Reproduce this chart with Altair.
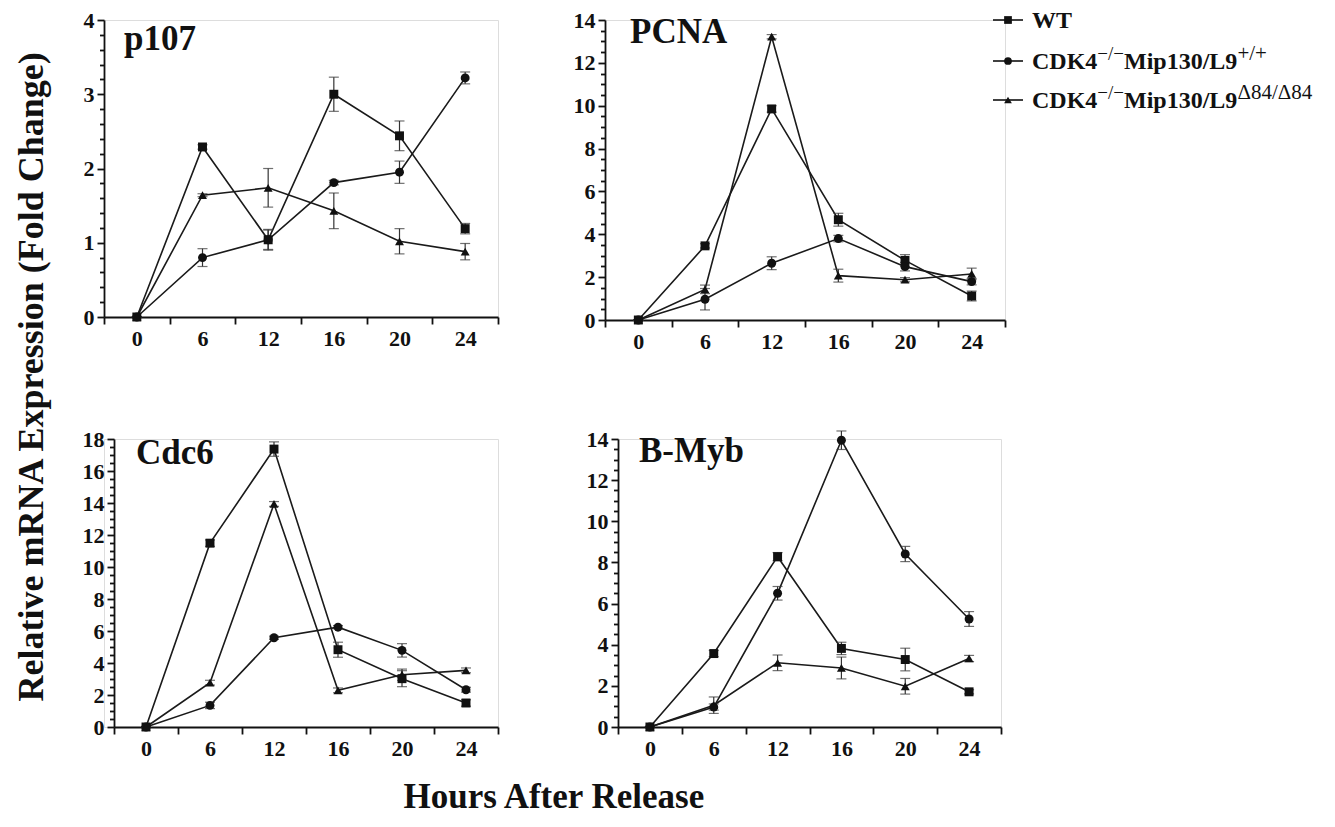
import altair as alt
import pandas as pd

FONT = "Liberation Serif"
INK = "#111111"

hours = ["0", "6", "12", "16", "20", "24"]
series = ["WT", "CDK4-/-Mip130/L9+/+", "CDK4-/-Mip130/L9D84/D84"]
shapes = ["square", "circle", "triangle-up"]

# ---- p107 ----
p107_wt = [0, 2.29, 1.04, 3.00, 2.44, 1.19]
p107_wt_err = [0, 0.03, 0.14, 0.23, 0.20, 0.07]
p107_pp = [0, 0.80, 1.04, 1.81, 1.95, 3.22]
p107_pp_err = [0, 0.12, 0.13, 0.03, 0.15, 0.08]
p107_d84 = [0, 1.64, 1.74, 1.43, 1.02, 0.88]
p107_d84_err = [0, 0.02, 0.26, 0.24, 0.17, 0.11]

# ---- PCNA ----
pcna_wt = [0, 3.46, 9.85, 4.68, 2.78, 1.12]
pcna_wt_err = [0, 0.10, 0.15, 0.30, 0.27, 0.23]
pcna_pp = [0, 0.97, 2.65, 3.80, 2.49, 1.79]
pcna_pp_err = [0, 0.50, 0.30, 0.15, 0.20, 0.15]
pcna_d84 = [0, 1.43, 13.22, 2.07, 1.88, 2.15]
pcna_d84_err = [0, 0.20, 0.10, 0.30, 0.10, 0.27]

# ---- Cdc6 ----
cdc6_wt = [0, 11.49, 17.37, 4.83, 3.02, 1.50]
cdc6_wt_err = [0, 0.20, 0.45, 0.47, 0.50, 0.20]
cdc6_pp = [0, 1.35, 5.58, 6.24, 4.79, 2.33]
cdc6_pp_err = [0, 0.20, 0.10, 0.10, 0.42, 0.15]
cdc6_d84 = [0, 2.77, 13.94, 2.29, 3.27, 3.54]
cdc6_d84_err = [0, 0.15, 0.15, 0.15, 0.35, 0.15]

# ---- B-Myb ----
bmyb_wt = [0, 3.57, 8.28, 3.82, 3.28, 1.71]
bmyb_wt_err = [0, 0.15, 0.20, 0.30, 0.55, 0.10]
bmyb_pp = [0, 0.97, 6.50, 13.94, 8.41, 5.25]
bmyb_pp_err = [0, 0.15, 0.33, 0.45, 0.37, 0.36]
bmyb_d84 = [0, 1.06, 3.12, 2.87, 1.98, 3.33]
bmyb_d84_err = [0, 0.40, 0.38, 0.53, 0.38, 0.15]

# legend text pieces
leg_main1 = ["WT", "CDK4", "CDK4"]
leg_sup1 = ["", "\u2212/\u2212", "\u2212/\u2212"]
leg_main2 = ["", "Mip130/L9", "Mip130/L9"]
leg_sup2 = ["", "+/+", "\u039484/\u039484"]


def make_df(wt, wte, pp, ppe, d, de):
    rows = []
    for s, vals, errs in zip(series, [wt, pp, d], [wte, ppe, de]):
        for h, v, e in zip(hours, vals, errs):
            rows.append({"series": s, "hour": h, "value": v, "lo": v - e, "hi": v + e})
    return pd.DataFrame(rows)


def panel(name, df, ymax, major, minor, w, h, tx, ty, inset=0, legend=False):
    nmaj = int(round(ymax / major))
    majors = [i * major for i in range(nmaj + 1)]
    nmin = int(round(ymax / minor))
    minors = [round(i * minor, 3) for i in range(nmin + 1)]
    minors = [v for v in minors if abs(v / major - round(v / major)) > 1e-6]
    xax = alt.Axis(title=None, tickBand="extent", labelAngle=0, tickSize=7, labelPadding=4,
                   domainColor=INK, domainWidth=1.8, tickColor=INK, tickWidth=1.8,
                   labelFont=FONT, labelFontWeight="bold", labelFontSize=22, labelColor=INK,
                   grid=False)
    yax_args = dict(title=None, orient="left", values=majors, format="d", tickSize=7,
                    labelPadding=3, labelOverlap=False, labelFlush=False,
                    domainColor=INK, domainWidth=1.8, tickColor=INK, tickWidth=1.8,
                    labelFont=FONT, labelFontWeight="bold", labelFontSize=22, labelColor=INK,
                    grid=False)
    minor_args = dict(title=None, orient="left", values=minors, labels=False, domain=False,
                      ticks=True, tickSize=4.5, tickWidth=1.8, tickColor=INK,
                      tickOpacity=1, grid=False)
    if inset:
        yax_args["offset"] = -inset
        minor_args["offset"] = -inset
    yax = alt.Axis(**yax_args)
    yminor = alt.Axis(**minor_args)
    if inset:
        xsc = alt.Scale(type="band", domain=hours, paddingInner=0, paddingOuter=0,
                        range=[inset, w])
    else:
        xsc = alt.Scale(type="band", domain=hours, paddingInner=0, paddingOuter=0)
    ysc = alt.Scale(domain=[0, ymax], nice=False, zero=True)
    x = alt.X("hour:O", sort=hours, bandPosition=0.5, scale=xsc, axis=xax)
    base = alt.Chart(df)
    lines = base.mark_line(color="#1a1a1a", strokeWidth=1.6).encode(
        x=x, y=alt.Y("value:Q", scale=ysc, axis=yax), detail="series:N")
    err = base.mark_rule(color="#333333", strokeWidth=1.2).encode(
        x=x, y=alt.Y("lo:Q", scale=ysc, axis=yax), y2="hi:Q")
    cap_lo = base.mark_tick(color="#333333", thickness=1.2, size=10).encode(
        x=x, y=alt.Y("lo:Q", scale=ysc, axis=yax))
    cap_hi = base.mark_tick(color="#333333", thickness=1.2, size=10).encode(
        x=x, y=alt.Y("hi:Q", scale=ysc, axis=yax))
    pts = base.mark_point(filled=True, opacity=1, color="#111111", size=80).encode(
        x=x, y=alt.Y("value:Q", scale=ysc, axis=yax),
        shape=alt.Shape("series:N", scale=alt.Scale(domain=series, range=shapes), legend=None))
    minor_layer = alt.Chart(pd.DataFrame({"v": minors})).mark_point(opacity=0, size=1).encode(
        x=alt.value(inset), y=alt.Y("v:Q", scale=ysc, axis=yminor))
    ttl = alt.Chart(pd.DataFrame({"label": [name]})).mark_text(
        align="left", baseline="alphabetic", font=FONT, fontWeight="bold",
        fontSize=35, color=INK).encode(x=alt.value(tx), y=alt.value(ty), text="label:N")
    layers = [lines, err, cap_lo, cap_hi, pts, ttl]
    if legend:
        layers += legend_layers()
    main = alt.layer(*layers)
    return alt.layer(minor_layer, main).resolve_axis(y="independent").properties(
        width=w, height=h)


def legend_layers():
    out = []
    rows_y = [0, 41, 80]
    x0, x1, xs, xt = 388, 418, 403, 427
    w_main1, w_sup1, w_main2 = 65.3, 26.7, 113.4
    one = pd.DataFrame({"k": [0]})
    for i, yy in enumerate(rows_y):
        out.append(alt.Chart(one).mark_rule(color=INK, strokeWidth=1.6).encode(
            x=alt.value(x0), x2=alt.value(x1), y=alt.value(yy)))
        out.append(alt.Chart(one).mark_point(filled=True, opacity=1, color=INK, size=60,
                                             shape=shapes[i]).encode(
            x=alt.value(xs), y=alt.value(yy)))
        segs = [
            (leg_main1[i], 0, 0, 24, "bold"),
            (leg_sup1[i], w_main1, -9, 19, "normal"),
            (leg_main2[i], w_main1 + w_sup1, 0, 24, "bold"),
            (leg_sup2[i], w_main1 + w_sup1 + w_main2, -9, 21, "normal"),
        ]
        for txt, dx, dy, fs, fw in segs:
            if not txt:
                continue
            out.append(alt.Chart(pd.DataFrame({"t": [txt]})).mark_text(
                align="left", baseline="alphabetic", font=FONT, fontWeight=fw,
                fontSize=fs, color=INK).encode(
                x=alt.value(xt + dx), y=alt.value(yy + 8 + dy), text="t:N"))
    return out


p1 = panel("p107", make_df(p107_wt, p107_wt_err, p107_pp, p107_pp_err, p107_d84, p107_d84_err),
           4, 1, 0.2, 394, 297, 20, 30)
p2 = panel("PCNA", make_df(pcna_wt, pcna_wt_err, pcna_pp, pcna_pp_err, pcna_d84, pcna_d84_err),
           14, 2, 0.5, 400, 300, 25, 23, legend=True)
p3 = panel("Cdc6", make_df(cdc6_wt, cdc6_wt_err, cdc6_pp, cdc6_pp_err, cdc6_d84, cdc6_d84_err),
           18, 2, 0.5, 394, 288, 32, 25, inset=10)
p4 = panel("B-Myb", make_df(bmyb_wt, bmyb_wt_err, bmyb_pp, bmyb_pp_err, bmyb_d84, bmyb_d84_err),
           14, 2, 0.5, 383, 288, 21, 23)

top = alt.hconcat(p1, p2, spacing=72)
bottom = alt.hconcat(p3, p4, spacing=85)

inner = alt.vconcat(top, bottom, spacing=74).properties(
    title=alt.TitleParams("Relative mRNA Expression (Fold Change)", orient="left",
                          font=FONT, fontSize=36, fontWeight="bold", color=INK,
                          offset=31, dx=58))

chart = alt.vconcat(inner).properties(
    title=alt.TitleParams("Hours After Release", orient="bottom", anchor="start", dx=390,
                          font=FONT, fontSize=35, fontWeight="bold", color=INK, offset=20),
    padding={"left": 5, "top": 0, "right": 5, "bottom": 5},
).configure_view(stroke=None).configure_axis(
    labelFont=FONT, labelFontWeight="bold", labelFontSize=22, labelColor=INK
).configure(background="white")

chart.save("out.html", embed_options={"renderer": "svg", "actions": False})
